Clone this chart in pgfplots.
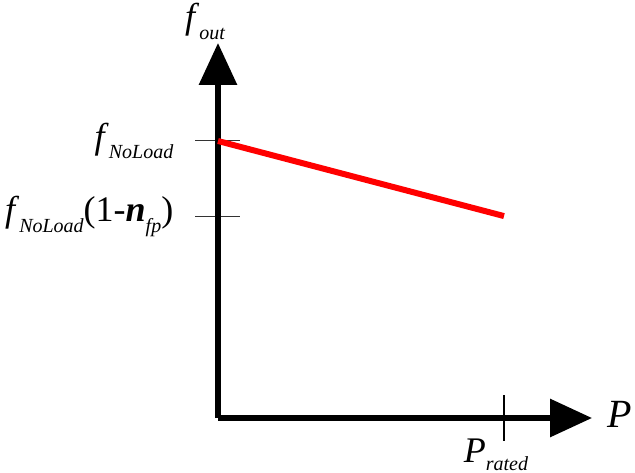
\documentclass[border=0pt]{standalone}
\usepackage{pgfplots}
\pgfplotsset{compat=1.18}
\usetikzlibrary{arrows.meta}
\usepackage{fontspec}
\setmainfont{Liberation Serif}
\newcommand\bigf{\fontsize{36}{40}\selectfont}
\newcommand\sub[1]{\raisebox{-0.3em}{\fontsize{20}{22}\selectfont\itshape #1}}
\newcommand\subr[1]{\raisebox{-0.22em}{\fontsize{20}{22}\selectfont\itshape #1}}
\begin{document}
\begin{tikzpicture}
\begin{axis}[
  anchor=origin, at={(0pt,0pt)},
  x=286pt, y=277pt,
  xmin=0, xmax=1.308, ymin=0, ymax=1.354,
  axis lines=left,
  axis line style={line width=6pt, -{Triangle[length=42pt,width=37pt]}},
  xtick={1}, xticklabels={{\bigf\textit{P}\subr{rated}}},
  ytick={0.729,1},
  yticklabels={{\bigf\textit{f}\sub{NoLoad}(1-\textbf{\textit{n}}\sub{fp})},{\bigf\textit{f}\sub{NoLoad}}},
  major tick length=45pt, tick align=center,
  tick style={line width=1pt, black!80},
  xtick style={line width=1.6pt, black},
  yticklabel style={anchor=east, inner sep=0pt, xshift=-22pt},
  xticklabel style={anchor=north, inner sep=0pt, yshift=2pt, xshift=-8pt},
  clip=false,
  xlabel={{\fontsize{40}{42}\selectfont\textit{P}}},
  ylabel={{\bigf\textit{f}\sub{out}}},
  xlabel style={at={(axis description cs:1,0)}, anchor=west, inner sep=0pt, xshift=15pt, yshift=4pt},
  ylabel style={at={(axis description cs:0,1)}, anchor=south, rotate=-90, inner sep=0pt, xshift=-13pt, yshift=3pt},
]
\addplot[red, line width=6pt] coordinates {(0,1) (1,0.729)};
\end{axis}
\pgfresetboundingbox
\path (-218pt,-54pt) rectangle (417pt,418pt);
\end{tikzpicture}
\end{document}
